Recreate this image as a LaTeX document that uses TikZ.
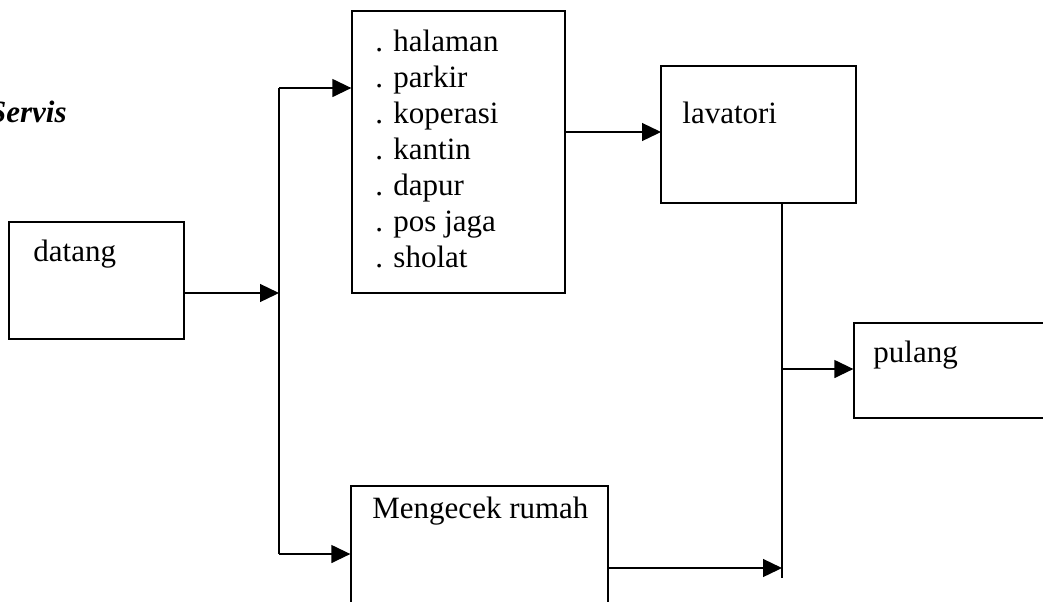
\documentclass[tikz,border=0pt]{standalone}
\usepackage{fontspec}
\setmainfont{Liberation Serif}
\usetikzlibrary{arrows.meta}
\newcommand{\flowfont}{\fontsize{15.5}{18}\selectfont}
\tikzset{
  box/.style={draw, line width=0.65pt, inner sep=0pt},
  lbl/.style={anchor=base west, inner sep=0pt},
  flow/.style={line width=0.65pt},
}
\begin{document}
\begin{tikzpicture}[x=0.5pt, y=-0.5pt, every node/.style={font=\flowfont},
  >={Triangle[length=9.5pt,width=9pt]}]
\useasboundingbox (0,0) rectangle (1043,601);
% title (cut at the left edge)
\node[anchor=base east, inner sep=0pt, font=\flowfont\bfseries\itshape] (judul) at (67,122) {Servis};
% boxes
\node[box, minimum width=87.5pt, minimum height=58.5pt] (datang) at (96.5,280.5) {};
\node[box, minimum width=106.5pt, minimum height=141pt] (fasilitas) at (458.5,152) {};
\node[box, minimum width=97.5pt, minimum height=68.5pt] (lavatori) at (758.5,134.5) {};
\node[box, minimum width=103pt, minimum height=47.5pt] (pulang) at (957,370.5) {};
\node[box, minimum width=128.5pt, minimum height=67pt] (cek) at (479.5,553) {};
% texts
\node[lbl] (tDatang) at (33,261) {datang};
\node[lbl] (tHalaman) at (375,51) {. halaman};
\node[lbl] (tParkir) at (375,87) {. parkir};
\node[lbl] (tKoperasi) at (375,123) {. koperasi};
\node[lbl] (tKantin) at (375,159) {. kantin};
\node[lbl] (tDapur) at (375,195) {. dapur};
\node[lbl] (tPos) at (375,231) {. pos jaga};
\node[lbl] (tSholat) at (375,267) {. sholat};
\node[lbl] (tLavatori) at (682,123) {lavatori};
\node[lbl] (tPulang) at (873,362) {pulang};
\node[lbl] (tCek) at (372,518) {Mengecek rumah};
% junction points
\coordinate (jTop) at (279,88);
\coordinate (jMid) at (279,293);
\coordinate (jBot) at (279,554);
\coordinate (lavIn) at (661,132);
\coordinate (rJoin) at (782,369);
\coordinate (rIn) at (782,568);
\coordinate (rEnd) at (782,578);
% connectors
\draw[flow,->] (datang.east |- jMid) -- (jMid);
\draw[flow] (jTop) -- (jBot);
\draw[flow,->] (jTop) -- (jTop -| fasilitas.west);
\draw[flow,->] (jBot) -- (jBot -| cek.west);
\draw[flow,->] (fasilitas.east |- lavIn) -- (lavIn);
\draw[flow] (lavatori.south -| rJoin) -- (rEnd);
\draw[flow,->] (rJoin) -- (rJoin -| pulang.west);
\draw[flow,->] (cek.east |- rIn) -- (rIn);
\end{tikzpicture}
\end{document}
